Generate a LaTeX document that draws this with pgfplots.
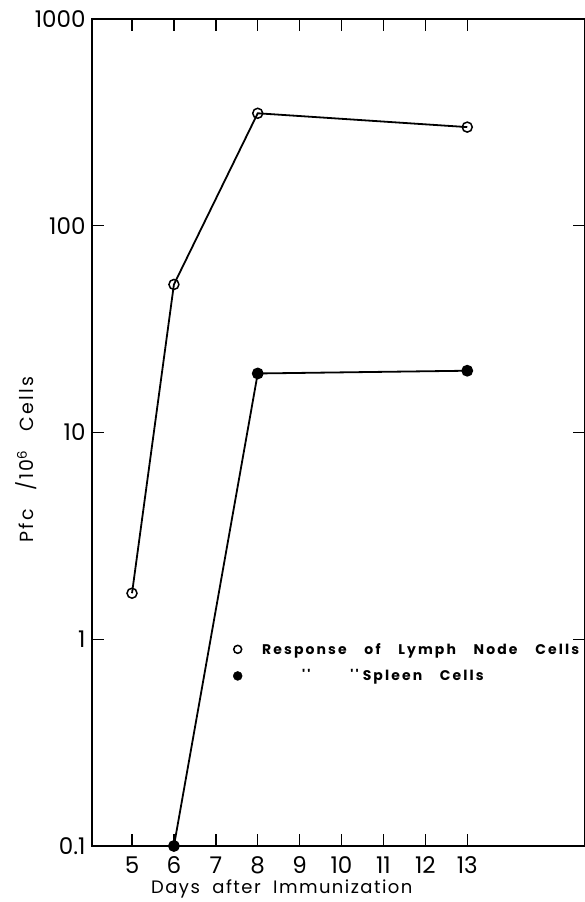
\documentclass[border=0pt]{standalone}
\usepackage{pgfplots}
\pgfplotsset{compat=1.18}
\usepackage{fontspec}
\setmainfont{Poppins}
\newfontfamily\lab[LetterSpace=8,WordSpace=2]{Poppins}
\newfontfamily\ylab[LetterSpace=12,WordSpace=2.5]{Poppins}
\newfontfamily\leg[LetterSpace=15,WordSpace=3.5]{Poppins}
\begin{document}
\begin{tikzpicture}
\begin{axis}[
  scale only axis, width=493pt, height=827pt,
  xmin=4.045, xmax=15.81, ymode=log, ymin=0.1, ymax=1000,
  xtick={5,6,7,8,9,10,11,12,13},
  ytick={0.1,1,10,100,1000},
  yticklabels={0.1,1,10,100,1000},
  yminorticks=false,
  tick align=inside, major tick length=12pt,
  tick style={line width=1.4pt, black},
  axis line style={line width=1.5pt},
  /pgf/number format/assume math mode=true,
  ticklabel style={font=\fontsize{23}{23}\selectfont},
  xticklabel shift=7pt,
  yticklabel style={xshift=-3pt},
  xlabel={Days after Immunization},
  xlabel style={font=\lab\fontsize{18}{18}\selectfont, at={(rel axis cs:0.385,0)}, anchor=north, yshift=-30pt},
  ylabel={Pfc /10\textsuperscript{6} Cells},
  ylabel style={font=\ylab\fontsize{19}{19}\selectfont, at={(rel axis cs:0,0.467)}, anchor=south, yshift=52pt},
  legend style={at={(rel axis cs:0.286,0.248)}, anchor=north west, draw=none, fill=none,
    font=\leg\bfseries\fontsize{14}{14}\selectfont, row sep=10pt, inner sep=0pt},
  legend cell align=left,
  legend image code/.code={\draw[#1] plot coordinates {(0pt,0pt)};},
]
\addplot[black, line width=1.8pt, mark=o, mark size=5pt, mark options={line width=1.5pt, fill=white}, forget plot]
  coordinates {(5,1.67) (6,52) (8,350) (13,300)};
\addplot[black, line width=1.8pt, mark=*, mark size=5pt, forget plot]
  coordinates {(6,0.1) (8,19.3) (13,19.9)};
\addlegendimage{only marks, mark=o, mark size=4pt, mark options={line width=1.5pt, black}}
\addlegendentry{\hspace{18pt}Response of Lymph Node Cells}
\addlegendimage{only marks, mark=*, mark size=4.5pt, black}
\addlegendentry{\hspace{58pt}''\hspace{40pt}''\hspace{4pt}Spleen Cells}
\coordinate (sw) at (rel axis cs:0,0);
\coordinate (ne) at (rel axis cs:1,1);
\end{axis}
\pgfresetboundingbox
\path ([xshift=-92pt,yshift=-56pt]sw) rectangle ([yshift=19pt]ne);
\end{tikzpicture}
\end{document}
